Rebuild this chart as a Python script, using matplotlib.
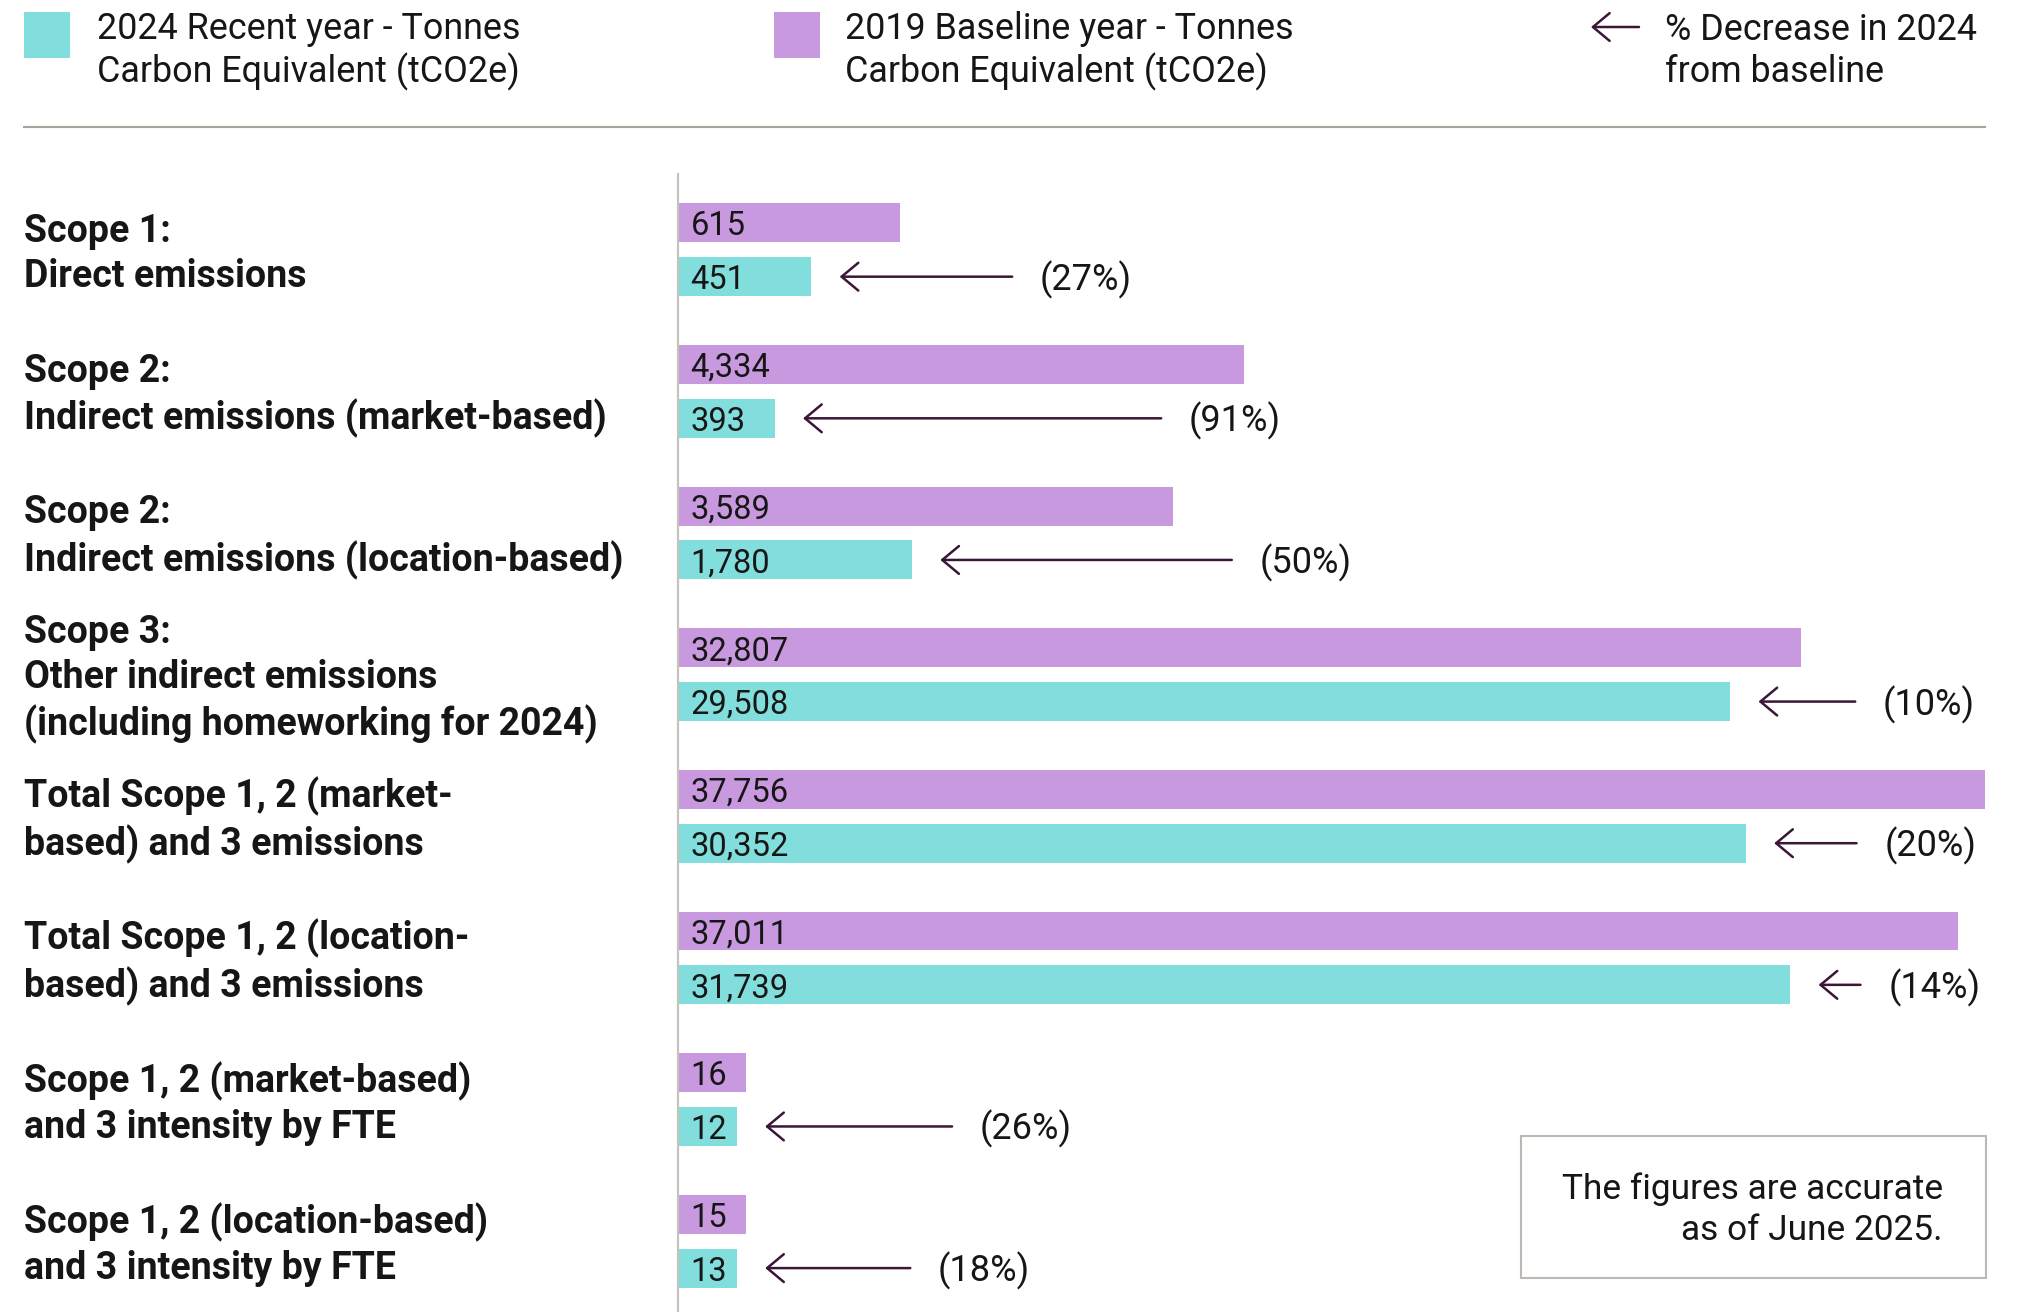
import matplotlib
matplotlib.use("Agg")
import matplotlib.pyplot as plt
from matplotlib.patches import Rectangle
from matplotlib.transforms import blended_transform_factory

plt.rcParams['font.family'] = ['Roboto', 'DejaVu Sans']

# data
categories = [
    "Scope 1:\nDirect emissions",
    "Scope 2:\nIndirect emissions (market-based)",
    "Scope 2:\nIndirect emissions (location-based)",
    "Scope 3:\nOther indirect emissions\n(including homeworking for 2024)",
    "Total Scope 1, 2 (market-\nbased) and 3 emissions",
    "Total Scope 1, 2 (location-\nbased) and 3 emissions",
    "Scope 1, 2 (market-based)\nand 3 intensity by FTE",
    "Scope 1, 2 (location-based)\nand 3 intensity by FTE",
]
baseline_2019 = [615, 4334, 3589, 32807, 37756, 37011, 16, 15]
recent_2024 = [451, 393, 1780, 29508, 30352, 31739, 12, 13]
pct_decrease = [27, 91, 50, 10, 20, 14, 26, 18]

# drawn bar lengths as they appear in the chart (% of the longest bar)
len_2019 = [17.0, 43.3, 37.9, 85.9, 100.0, 97.9, 5.2, 5.2]
len_2024 = [10.2, 7.4, 17.9, 80.5, 81.7, 85.1, 4.5, 4.5]
# arrow lengths (% of the longest bar)
arrow_len = [13.2, 27.4, 22.3, 7.4, 6.3, 3.2, 14.3, 11.1]

teal = "#82dedc"
purple = "#c999e0"
arrow_col = "#3b1636"
text_col = "#161616"

W, H = 2024, 1312
fig = plt.figure(figsize=(W / 100, H / 100), dpi=100)

# overlay for legend, rule and note box
ov = fig.add_axes([0, 0, 1, 1])
ov.set_xlim(0, W)
ov.set_ylim(H, 0)
ov.axis('off')

# bar axes
ax = fig.add_axes([678 / W, 0, 1307 / W, (H - 174) / H])
ax.patch.set_visible(False)
n = len(categories)
y_2019 = [i - 0.19 for i in range(n)]
y_2024 = [i + 0.19 for i in range(n)]
ax.barh(y_2019, len_2019, height=0.275, color=purple)
ax.barh(y_2024, len_2024, height=0.275, color=teal)
ax.set_xlim(0, 100)
ax.set_ylim(7.5, -0.535)
for s in ['top', 'right', 'bottom']:
    ax.spines[s].set_visible(False)
ax.spines['left'].set_color("#c6c2bc")
ax.spines['left'].set_linewidth(1.6)
ax.set_xticks([])
ax.set_yticks([])

for i in range(n):
    ax.annotate(f"{baseline_2019[i]:,}", (0, y_2019[i]), xytext=(9, -2.5),
                textcoords='offset points', va='center', ha='left',
                fontsize=23.5, color=text_col)
    ax.annotate(f"{recent_2024[i]:,}", (0, y_2024[i]), xytext=(9, -2.5),
                textcoords='offset points', va='center', ha='left',
                fontsize=23.5, color=text_col)
    head = len_2024[i] + 2.17
    tail = head + arrow_len[i]
    ax.annotate("", xy=(head, y_2024[i]), xytext=(tail, y_2024[i]),
                arrowprops=dict(arrowstyle="->,head_length=0.6,head_width=0.5",
                                color=arrow_col, lw=1.8, shrinkA=0, shrinkB=0,
                                mutation_scale=20),
                annotation_clip=False)
    ax.annotate(f"({pct_decrease[i]}%)", (tail, y_2024[i]), xytext=(20, -2),
                textcoords='offset points', va='center', ha='left',
                fontsize=26, color=text_col, annotation_clip=False)

trans = blended_transform_factory(fig.transFigure, ax.transData)
for i, lab in enumerate(categories):
    ax.text(24.5 / W, i + 0.028, lab, transform=trans, ha='left', va='center',
            fontsize=27, fontweight='bold', color=text_col, linespacing=1.28)

ov.add_patch(Rectangle((24.5, 11.6), 46, 46, color=teal, lw=0))
ov.text(96.8, 51, "2024 Recent year - Tonnes\nCarbon Equivalent (tCO2e)",
        ha='left', va='center', fontsize=25.8, color=text_col, linespacing=1.2)
ov.add_patch(Rectangle((774.5, 11.6), 46, 46, color=purple, lw=0))
ov.text(845.5, 51, "2019 Baseline year - Tonnes\nCarbon Equivalent (tCO2e)",
        ha='left', va='center', fontsize=25.8, color=text_col, linespacing=1.2)
ov.annotate("", xy=(1591, 27), xytext=(1639, 27),
            arrowprops=dict(arrowstyle="->,head_length=0.6,head_width=0.5",
                            color=arrow_col, lw=1.8, shrinkA=0, shrinkB=0,
                            mutation_scale=20))
ov.text(1665, 51, "% Decrease in 2024\nfrom baseline",
        ha='left', va='center', fontsize=25.8, color=text_col, linespacing=1.2)

ov.plot([24.5, 1985], [126.5, 126.5], color="#a9a39c", lw=1.5)

ov.add_patch(Rectangle((1520.6, 1136), 465, 142, facecolor='white',
                       edgecolor="#bdb8b2", lw=1.5))
ov.text(1943, 1210, "The figures are accurate\nas of June 2025.",
        ha='right', va='center', fontsize=25.4, color=text_col, linespacing=1.3)

fig.savefig("out.png", dpi=100, facecolor='white')
